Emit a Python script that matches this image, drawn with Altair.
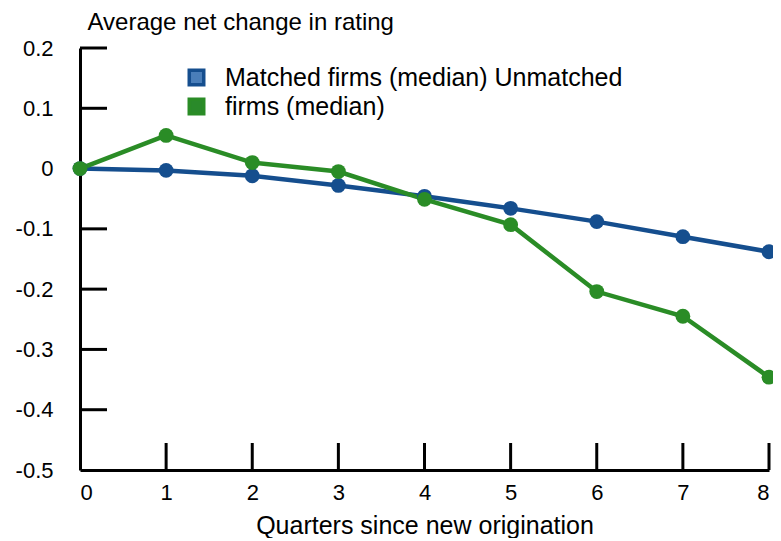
import altair as alt
import pandas as pd

quarters = [0, 1, 2, 3, 4, 5, 6, 7, 8]
matched = [0.0, -0.003, -0.012, -0.028, -0.046, -0.066, -0.088, -0.113, -0.138]
unmatched = [0.0, 0.055, 0.010, -0.005, -0.051, -0.093, -0.204, -0.245, -0.346]
series_names = ["Matched firms (median)", "Unmatched firms (median)"]
legend_labels = ["Matched firms (median) Unmatched", "firms (median)"]
line_colors = ["#154e8e", "#2a8c26"]
legend_fills = ["#4a7eb9", "#2a8a2a"]
y_ticks = [0.2, 0.1, 0, -0.1, -0.2, -0.3, -0.4, -0.5]
y_tick_marks = [0.2, 0.1, 0, -0.1, -0.2, -0.3, -0.4]
x_tick_marks = [1, 2, 3, 4, 5, 6, 7, 8]

rows = []
for q, m, u in zip(quarters, matched, unmatched):
    rows.append({"q": q, "v": m, "s": series_names[0]})
    rows.append({"q": q, "v": u, "s": series_names[1]})
df = pd.DataFrame(rows)

FONT = "Liberation Sans"
W, H = 689, 422

xs = alt.Scale(domain=[0, 8], nice=False)
ys = alt.Scale(domain=[-0.5, 0.2], nice=False)

x_enc = alt.X("q:Q", scale=xs, axis=alt.Axis(
    values=quarters, format="d", ticks=False, grid=False,
    domainColor="black", domainWidth=3, labelFontSize=22, labelFont=FONT,
    labelColor="black", labelPadding=12, title="Quarters since new origination",
    titleFont=FONT, titleFontSize=25, titleFontWeight="normal", titleColor="black",
    titlePadding=10))
y_enc = alt.Y("v:Q", scale=ys, axis=alt.Axis(
    values=y_ticks,
    labelExpr="datum.value == 0 ? '0' : replace(format(datum.value, '.1f'), '\u2212', '-')",
    ticks=False, grid=False, domainColor="black", domainWidth=3,
    labelFontSize=22, labelFont=FONT, labelColor="black", labelPadding=27,
    title="Average net change in rating", titleFont=FONT, titleFontSize=24,
    titleFontWeight="normal", titleColor="black", titleAngle=0, titleAlign="left",
    titleBaseline="alphabetic", titleX=7, titleY=-19))

color_scale = alt.Scale(domain=series_names, range=line_colors)

lines = alt.Chart(df).mark_line(strokeWidth=4.5).encode(
    x=x_enc, y=y_enc,
    color=alt.Color("s:N", scale=color_scale, legend=None))
points = alt.Chart(df).mark_circle(size=220, opacity=1).encode(
    x="q:Q", y="v:Q",
    color=alt.Color("s:N", scale=color_scale, legend=None))

label_expr = ("datum.label == '%s' ? '%s' : '%s'"
              % (series_names[0], legend_labels[0], legend_labels[1]))
legend_layer = alt.Chart(df).mark_square(opacity=0, size=1).encode(
    x="q:Q", y="v:Q",
    fill=alt.Fill("s:N", scale=alt.Scale(domain=series_names, range=legend_fills),
                  legend=alt.Legend(title=None, orient="none", legendX=104, legendY=17,
                                    symbolType="square", symbolSize=210,
                                    symbolStrokeColor="black", symbolStrokeWidth=3.5,
                                    symbolOpacity=1, labelFont=FONT, labelFontSize=25,
                                    labelColor="black", labelOffset=16, rowPadding=0,
                                    labelLimit=0, padding=0, labelExpr=label_expr)))

ytick_df = pd.DataFrame({"v": y_tick_marks})
yticks = alt.Chart(ytick_df).mark_rule(color="black", strokeWidth=3).encode(
    y=alt.Y("v:Q", scale=ys), x=alt.value(0), x2=alt.value(27))
xtick_df = pd.DataFrame({"q": x_tick_marks})
xticks = alt.Chart(xtick_df).mark_rule(color="black", strokeWidth=3).encode(
    x=alt.X("q:Q", scale=xs), y=alt.value(H), y2=alt.value(H - 27))

chart = alt.layer(legend_layer, yticks, xticks, lines, points).properties(
    width=W, height=H,
    autosize=alt.AutoSizeParams(type="none"),
    padding={"left": 72, "top": 40, "right": 4, "bottom": 68},
    background="white",
).configure_view(stroke=None)

chart.save("out.html", embed_options={"renderer": "svg", "actions": False})
